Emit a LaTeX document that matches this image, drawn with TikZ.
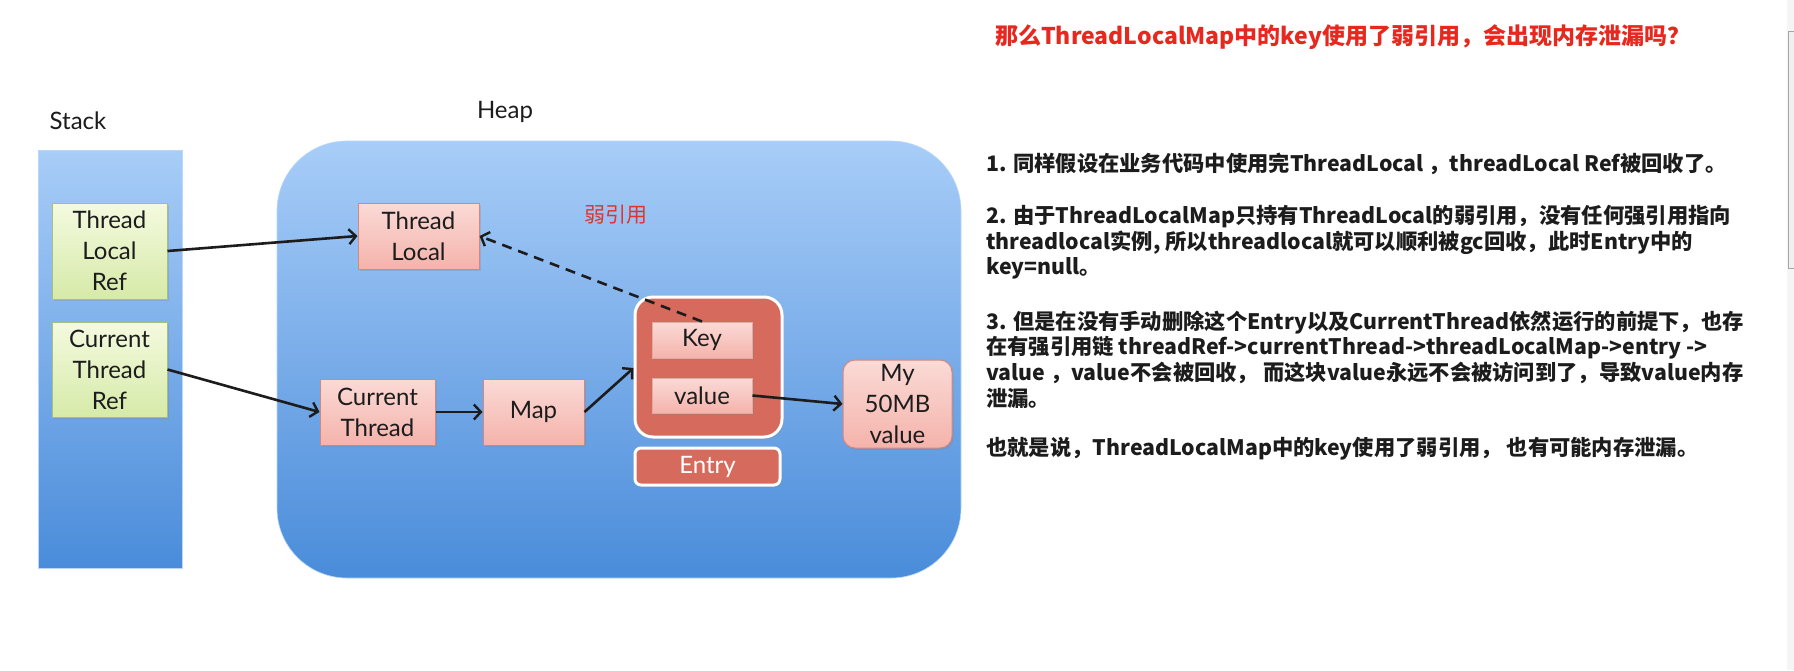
\documentclass[tikz,border=0pt]{standalone}
\usepackage{fontspec}
\setmainfont{Lato}
\newfontfamily\cjk{Noto Sans CJK SC}
\usetikzlibrary{arrows.meta,calc,shadows}
\definecolor{blueTop}{HTML}{A8CDF8}
\definecolor{blueBot}{HTML}{4A8CDA}
\definecolor{greenTop}{HTML}{F4FADF}
\definecolor{greenBot}{HTML}{D6EAA8}
\definecolor{greenLine}{HTML}{A9BF7E}
\definecolor{pinkTop}{HTML}{FBDAD6}
\definecolor{pinkBot}{HTML}{F4B3AB}
\definecolor{pinkLine}{HTML}{D4877E}
\definecolor{entryRed}{HTML}{D66A5C}
\definecolor{txtDark}{HTML}{1C1C1C}
\definecolor{titleRed}{HTML}{E8271E}
\definecolor{weakRed}{HTML}{E0342C}
\tikzset{
  soft/.style={drop shadow={opacity=0.25, shadow xshift=1.5pt, shadow yshift=-2pt}},
  blueshade/.style={top color=blueTop, bottom color=blueBot, draw=blueTop!80!white, line width=0.6pt},
  greenbox/.style={soft, top color=greenTop, bottom color=greenBot, draw=greenLine, line width=1pt,
    inner sep=0pt, align=center, text=txtDark, font=\fontsize{24}{31}\selectfont},
  pinkbox/.style={soft, top color=pinkTop, bottom color=pinkBot, draw=pinkLine, line width=1pt,
    inner sep=0pt, align=center, text=txtDark, font=\fontsize{24}{31}\selectfont},
  entrybox/.style={soft, fill=entryRed, draw=white, line width=3pt, inner sep=0pt},
  arr/.style={draw=txtDark, line width=2.6pt, -{Straight Barb[length=7pt,width=15pt,line width=2.4pt]}},
  dasharr/.style={arr, dash pattern=on 10pt off 7pt},
  rtext/.style={anchor=west, inner sep=0pt, text=txtDark, font=\cjk\bfseries\fontsize{21.3}{25}\selectfont},
}
\begin{document}
\begin{tikzpicture}[x=1pt,y=-1pt]
\useasboundingbox[fill=white] (0,0) rectangle (1794,670);
% scrollbar strip
\fill[black!4] (1787,0) rectangle (1794,670);
\draw[black!35, line width=0.8pt, fill=black!6] (1788,31) rectangle (1794,268);

% Stack
\node[font=\fontsize{24}{28}\selectfont, text=txtDark] (stacklbl) at (78,121) {Stack};
\node[blueshade, minimum width=144pt, minimum height=418pt, inner sep=0pt] (stack) at (110,359) {};
\node[greenbox, minimum width=115pt, minimum height=96pt] (tlr) at (109.5,251) {Thread\\Local\\Ref};
\node[greenbox, minimum width=115pt, minimum height=95pt] (ctr) at (109.5,369.5) {Current\\Thread\\Ref};

% Heap
\node[font=\fontsize{24}{28}\selectfont, text=txtDark] (heaplbl) at (505,112) {Heap};
\node[blueshade, rounded corners=70pt, minimum width=684pt, minimum height=437pt, inner sep=0pt] (heap) at (619,359.5) {};

\node[pinkbox, minimum width=121pt, minimum height=66pt] (tl) at (418.5,236) {Thread\\Local};
\node[pinkbox, minimum width=115pt, minimum height=66pt] (ct) at (377.5,412) {Current\\Thread};
\node[pinkbox, minimum width=101pt, minimum height=66pt] (map) at (533.5,412) {Map};

\node[entrybox, rounded corners=18pt, minimum width=147pt, minimum height=140pt] (entry) at (708.5,367) {};
\node[pinkbox, draw=pinkLine!70, minimum width=100pt, minimum height=36pt] (key) at (702,340) {Key};
\node[pinkbox, draw=pinkLine!70, minimum width=100pt, minimum height=35pt] (val) at (702,395.5) {value};
\node[entrybox, rounded corners=6pt, minimum width=145pt, minimum height=37pt, text=white,
  font=\fontsize{24}{28}\selectfont] (entrylbl) at (707.5,466.5) {Entry};
\node[pinkbox, rounded corners=12pt, minimum width=109pt, minimum height=88pt] (mybox) at (897.5,404) {My\\50MB\\value};

\node[text=weakRed, font=\cjk\fontsize{21}{25}\selectfont] (weak) at (616,215) {弱引用};

% connectors
\coordinate (gap) at ($(key.south)!0.5!(val.north)$);
\draw[arr] (tlr.east) -- (tl.west);
\draw[arr] (ctr.east) -- (ct.west);
\draw[arr] (ct.east) -- (map.west);
\draw[arr] (map.east) -- (entry.west |- gap);
\draw[arr] (val.east) -- (mybox.west);
\draw[dasharr] (key.north) -- (tl.east);

% texts on the right
\node[anchor=west, inner sep=0pt, text=titleRed, font=\cjk\bfseries\fontsize{23}{27}\selectfont] (title) at (995,37)
  {那么ThreadLocalMap中的key使用了弱引用，会出现内存泄漏吗？};
\node[rtext] (l1) at (986,164) {1. 同样假设在业务代码中使用完ThreadLocal ，threadLocal Ref被回收了。};
\node[rtext] (l2) at (986,217) {2. 由于ThreadLocalMap只持有ThreadLocal的弱引用，没有任何强引用指向};
\node[rtext] (l3) at (986,242.5) {threadlocal实例, 所以threadlocal就可以顺利被gc回收，此时Entry中的};
\node[rtext] (l4) at (986,268) {key=null。};
\node[rtext] (l5) at (986,323) {3. 但是在没有手动删除这个Entry以及CurrentThread依然运行的前提下，也存};
\node[rtext] (l6) at (986,348) {在有强引用链 threadRef->currentThread->threadLocalMap->entry ->};
\node[rtext] (l7) at (986,373) {value ，value不会被回收， 而这块value永远不会被访问到了，导致value内存};
\node[rtext] (l8) at (986,398) {泄漏。};
\node[rtext] (l9) at (986,448.5) {也就是说，ThreadLocalMap中的key使用了弱引用， 也有可能内存泄漏。};
\end{tikzpicture}
\end{document}
